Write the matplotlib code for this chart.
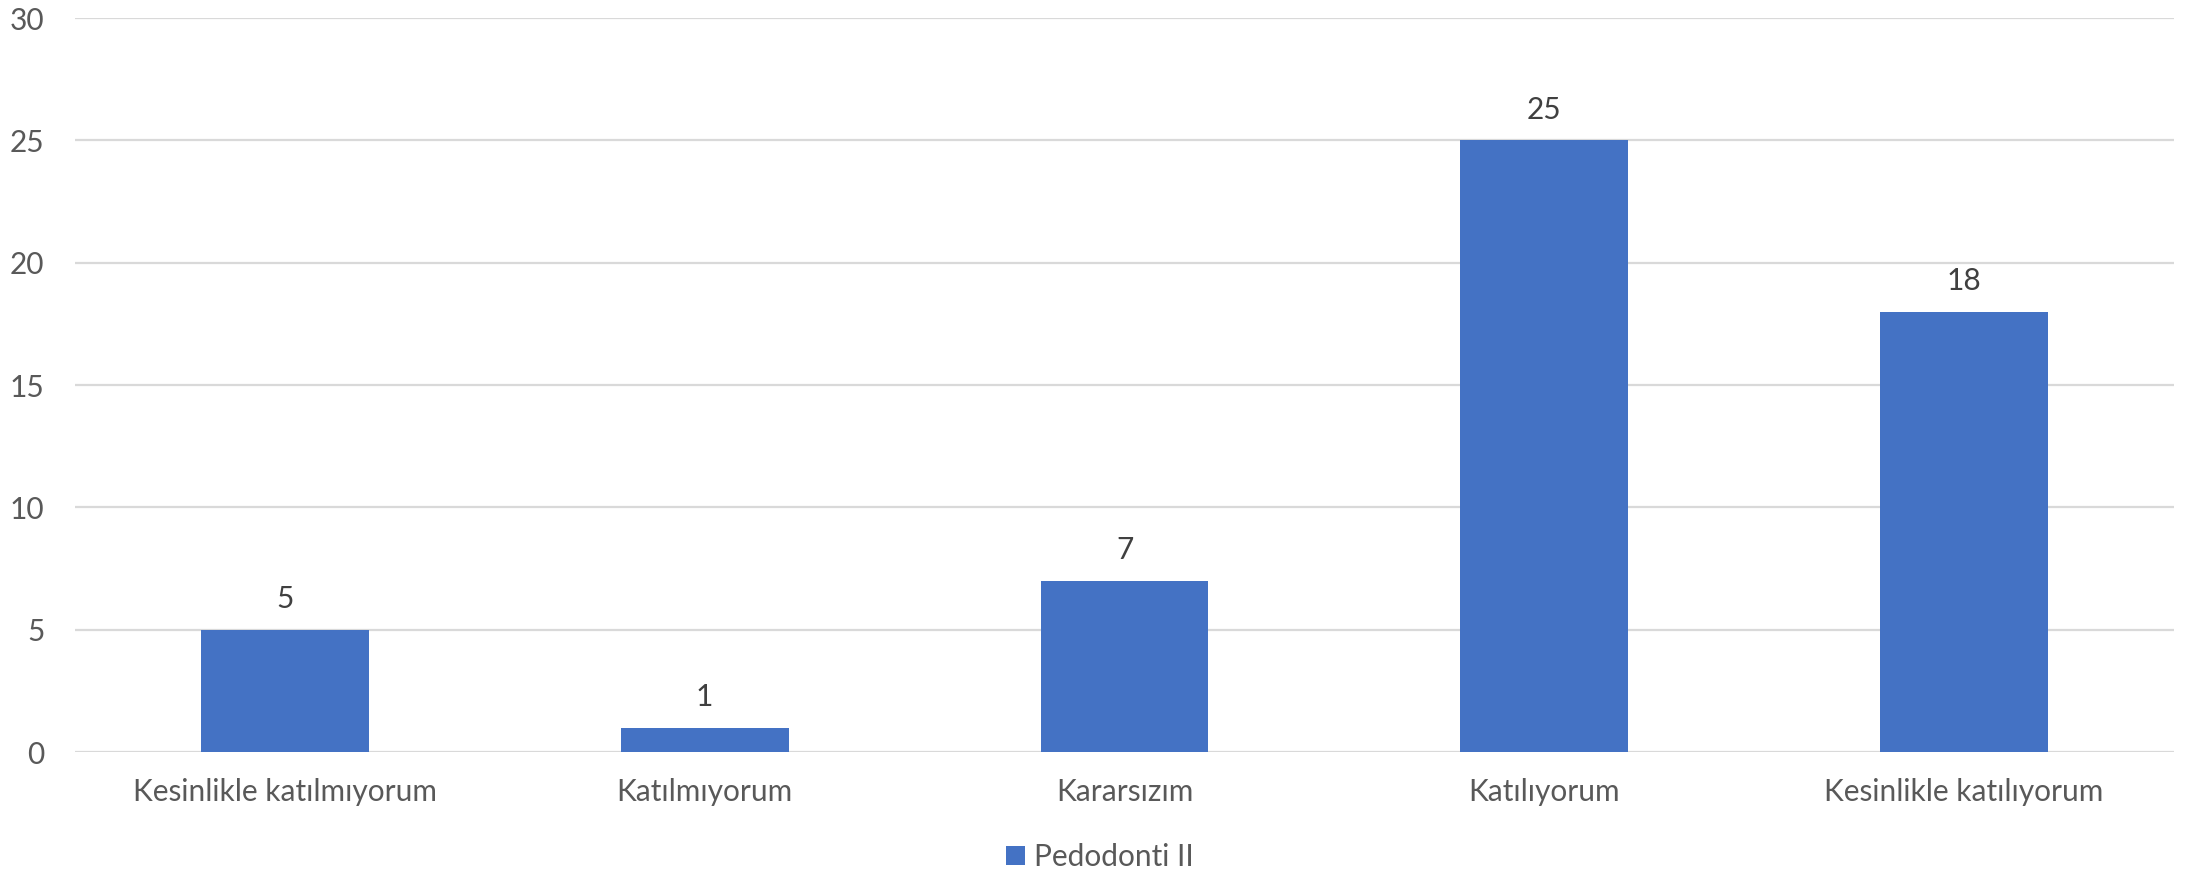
import matplotlib.pyplot as plt
from matplotlib.patches import Patch

categories = ["Kesinlikle katılmıyorum", "Katılmıyorum", "Kararsızım",
              "Katılıyorum", "Kesinlikle katılıyorum"]
values = [5, 1, 7, 25, 18]
series_name = "Pedodonti II"
yticks = [0, 5, 10, 15, 20, 25, 30]

plt.rcParams['font.family'] = ['Lato', 'DejaVu Sans']

W, H = 2186, 872
fig = plt.figure(figsize=(W / 100, H / 100), dpi=100)
ax = fig.add_axes([75 / W, 1 - 752 / H, (2174 - 75) / W, (752 - 18) / H])

bar_color = "#4472C4"
x = list(range(len(categories)))
bars = ax.bar(x, values, width=0.4, color=bar_color, zorder=3)

for b, v in zip(bars, values):
    ax.annotate(str(v), (b.get_x() + b.get_width() / 2, v),
                xytext=(0, 12), textcoords="offset points",
                ha="center", va="bottom", fontsize=21.5, color="#404040")

ax.set_xlim(-0.5, len(categories) - 0.5)
ax.set_ylim(0, 30)
ax.set_yticks(yticks)
ax.set_xticks(x)
ax.set_xticklabels(categories)
ax.yaxis.grid(True, color="#d9d9d9", linewidth=1.6, zorder=0)
ax.set_axisbelow(True)
for s in ax.spines.values():
    s.set_visible(False)
ax.tick_params(axis="both", length=0, labelsize=21.5, labelcolor="#595959")
ax.tick_params(axis="y", pad=22)
ax.tick_params(axis="x", pad=19)

handle = Patch(facecolor=bar_color, label=series_name)
fig.legend(handles=[handle], loc="center", bbox_to_anchor=(1100 / W, 1 - 857 / H),
           frameon=False, fontsize=21.5, labelcolor="#595959",
           handlelength=0.65, handleheight=0.65, handletextpad=0.3)

fig.savefig("out.png", dpi=100)
